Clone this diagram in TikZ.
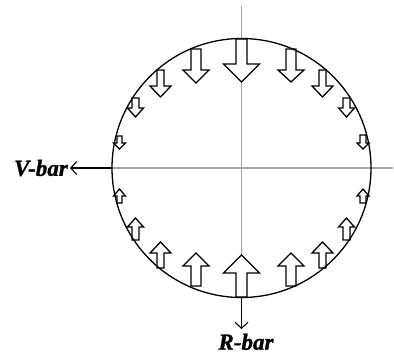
\documentclass[tikz,border=0pt]{standalone}
\usepackage{fontspec}
\setmainfont{Liberation Serif}
\newfontfamily\barfont[ItalicFont={Liberation Serif Bold Italic},ItalicFeatures={FakeBold=1.2}]{Liberation Serif}
\usetikzlibrary{arrows.meta}
\tikzset{
  axisline/.style={draw=black!35,line width=1.3pt},
  outline/.style={draw=black,line width=1.3pt},
  blockarrow/.style={draw=black,fill=white,line width=1.3pt,line join=miter},
  pointer/.style={draw=black,line width=1.1pt,-{Straight Barb[length=6pt,width=13pt,line width=1.1pt]}},
  barlabel/.style={font=\fontsize{23}{23}\selectfont\barfont\itshape,inner sep=0pt}
}
% #1 shaft left, #2 shaft right, #3 shaft end, #4 head base, #5 head half width, #6 tip
\newcommand{\blockarr}[6]{%
  \pgfmathsetmacro{\midx}{(#1+#2)/2}%
  \draw[blockarrow] (#1,#3) -- (#1,#4) -- ({\midx-#5},#4) -- (\midx,#6) -- ({\midx+#5},#4) -- (#2,#4) -- (#2,#3) -- cycle;}
\begin{document}
\begin{tikzpicture}[x=1pt,y=-1pt]
\useasboundingbox (0,0) rectangle (394,354);
\fill[white] (0,0) rectangle (394,354);
\coordinate (ctr) at (241.5,168);
\coordinate (top) at (241.5,6);
\coordinate (right) at (393,168);
\coordinate (left) at (112,168);
\coordinate (bot) at (241.5,297);
\coordinate (vtip) at (70,168);
\coordinate (rtip) at (241.5,329);
\draw[axisline] (top) -- (241.5,255);
\draw[axisline] (left) -- (right);
% top row
\foreach \a/\b/\t/\ba/\h/\ti in {236/247/39/64/18/82, 191/201/49/70/13/83, 157/164/70/86/10.5/97, 132/139/98/108/8/117, 117/122/136/143/6/149,
  286/296/49/70/13/82, 319/326/70/86/10.5/97, 343/350/98/108/8/117, 360/366/135/143/6/149}{
  \blockarr{\a}{\b}{\t}{\ba}{\h}{\ti}
}
% bottom row
\foreach \a/\b/\t/\ba/\h/\ti in {236/247/297/273/18/255, 191/201/286/266/13/253, 157/164/268/253/10.5/242, 132/139/240/227/8/218, 117/122/203/196/6/189,
  286/296/286/266/13/253, 319/326/268/253/10.5/242, 343/350/240/227/8/218, 360/366/203/196/6/189}{
  \blockarr{\a}{\b}{\t}{\ba}{\h}{\ti}
}
\draw[outline] (ctr) circle[radius=129.5];
\node[barlabel,anchor=east] (vbar) at (68,168) {V-bar};
\node[barlabel,anchor=north] (rbar) at (246,333.5) {R-bar};
\draw[pointer] (left) -- (vtip);
\draw[pointer] (bot) -- (rtip);
\end{tikzpicture}
\end{document}
